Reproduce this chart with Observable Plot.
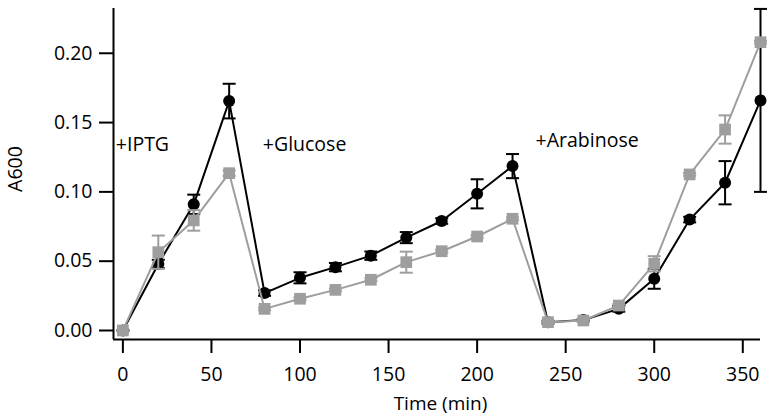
<!DOCTYPE html>
<html>
<head>
<meta charset="utf-8">
<script src="https://cdn.jsdelivr.net/npm/d3@7"></script>
<script src="https://cdn.jsdelivr.net/npm/@observablehq/plot@0.6"></script>
<style>
  html, body { margin: 0; padding: 0; background: #fff; }
  #chart { width: 775px; height: 420px; }
</style>
</head>
<body>
<div id="chart"></div>
<script>
// ---- data ----
const times = [0, 20, 40, 60, 80, 100, 120, 140, 160, 180, 200, 220, 240, 260, 280, 300, 320, 340, 360];
const blackValues = [0, 0.048, 0.091, 0.1655, 0.027, 0.038, 0.0457, 0.054, 0.067, 0.079, 0.0986, 0.1186, 0.006, 0.0075, 0.0156, 0.0373, 0.080, 0.1066, 0.166];
const blackErrors = [0, 0.003, 0.007, 0.0125, 0.002, 0.004, 0.003, 0.003, 0.004, 0.002, 0.0105, 0.0087, 0.001, 0.001, 0.002, 0.0072, 0.002, 0.0156, 0.066];
const grayValues = [0, 0.0565, 0.0794, 0.1135, 0.0156, 0.0229, 0.0293, 0.0366, 0.0493, 0.0572, 0.0678, 0.0806, 0.006, 0.0072, 0.018, 0.0481, 0.1126, 0.145, 0.208];
const grayErrors = [0, 0.012, 0.0074, 0.002, 0.001, 0.001, 0.001, 0.001, 0.0076, 0.001, 0.001, 0.001, 0.001, 0.001, 0.001, 0.0055, 0.001, 0.0102, 0.001];
const xTicks = [0, 50, 100, 150, 200, 250, 300, 350];
const yTicks = [0, 0.05, 0.10, 0.15, 0.20];
const annotationLabels = ["+IPTG", "+Glucose", "+Arabinose"];
const annotationTimes = [-4, 79, 233];
const annotationValues = [0.134, 0.134, 0.137];
const xLabel = "Time (min)";
const yLabel = "A600";
const xDomain = [-5.3, 360];
const yDomain = [-0.0065, 0.2323];

// ---- build tables ----
const black = times.map((t, i) => ({t, v: blackValues[i], e: blackErrors[i]}));
const gray = times.map((t, i) => ({t, v: grayValues[i], e: grayErrors[i]}));
const notes = annotationLabels.map((label, i) => ({label, t: annotationTimes[i], v: annotationValues[i]}));

const GRAY = "#9e9e9e";
const capSymbol = {
  draw(context, size) {
    const w = Math.sqrt(size / Math.PI);
    context.moveTo(-w, 0);
    context.lineTo(w, 0);
  }
};

function seriesMarks(data, color, symbol, r) {
  return [
    Plot.line(data, {x: "t", y: "v", stroke: color, strokeWidth: 2}),
    Plot.ruleX(data, {x: "t", y1: d => d.v - d.e, y2: d => d.v + d.e, stroke: color, strokeWidth: 2}),
    Plot.dot(data, {x: "t", y: d => d.v - d.e, symbol: capSymbol, r: 6.5, stroke: color, fill: "none", strokeWidth: 2}),
    Plot.dot(data, {x: "t", y: d => d.v + d.e, symbol: capSymbol, r: 6.5, stroke: color, fill: "none", strokeWidth: 2}),
    Plot.dot(data, {x: "t", y: "v", symbol, r, fill: color, stroke: "none"})
  ];
}

const chart = Plot.plot({
  width: 775,
  height: 420,
  marginLeft: 113,
  marginRight: 15,
  marginTop: 8,
  marginBottom: 81,
  style: {fontFamily: "Open Sans", fontSize: "19.5px", color: "#000", background: "#fff", overflow: "visible"},
  x: {domain: xDomain},
  y: {domain: yDomain},
  marks: [
    Plot.axisX(xTicks, {tickSize: 14, tickPadding: 13.5, strokeWidth: 2, label: null, fontSize: 19.5}),
    Plot.axisY(yTicks, {tickSize: 14, tickPadding: 7, strokeWidth: 2, tickFormat: d3.format(".2f"), label: null, fontSize: 19.5}),
    Plot.ruleY([yDomain[0]], {stroke: "#000", strokeWidth: 2}),
    Plot.ruleX([xDomain[0]], {stroke: "#000", strokeWidth: 2}),
    Plot.text([xLabel], {frameAnchor: "bottom", dy: 64, dx: 3.5, lineAnchor: "middle", fontSize: 19}),
    Plot.text([yLabel], {frameAnchor: "left", rotate: -90, dx: -98, dy: -5, lineAnchor: "middle", textAnchor: "middle", fontSize: 19.5}),
    ...seriesMarks(black, "#000", "circle", 6),
    ...seriesMarks(gray, GRAY, "square", 6.6),
    Plot.text(notes, {x: "t", y: "v", text: "label", textAnchor: "start", lineAnchor: "middle", fontSize: 19.5, fill: "#000"})
  ]
});
document.getElementById("chart").append(chart);
</script>
</body>
</html>
